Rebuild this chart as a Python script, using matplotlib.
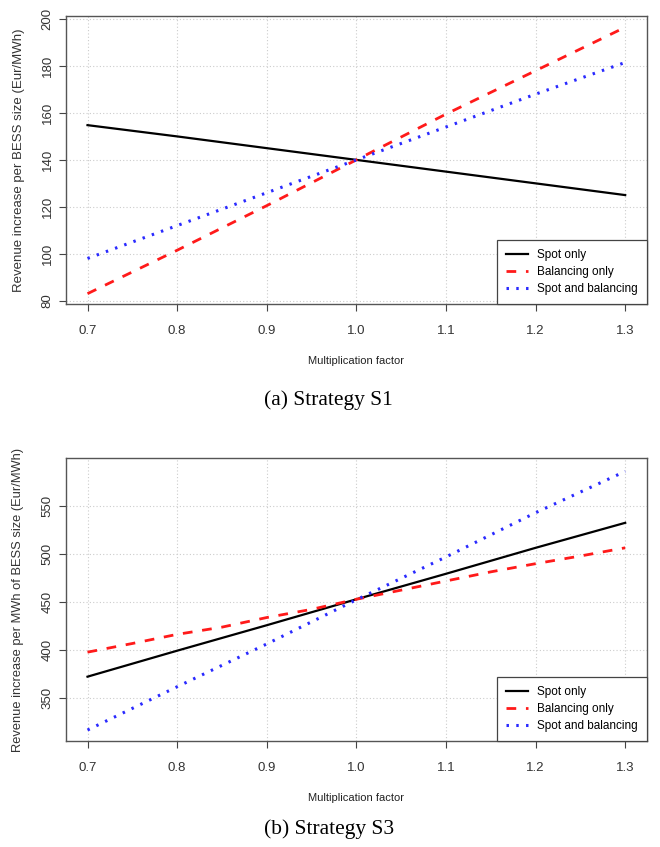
import matplotlib
matplotlib.use("Agg")
import matplotlib.pyplot as plt

# ---- data ----
factor = [0.7, 0.8, 0.9, 1.0, 1.1, 1.2, 1.3]
factor_fine = [0.70, 0.75, 0.80, 0.85, 0.90, 0.95, 1.00, 1.05, 1.10, 1.15, 1.20, 1.25, 1.30]

s1_spot = [154.8, 150.0, 145.0, 140.0, 135.0, 130.0, 125.0]
s1_balancing = [83.0, 101.5, 120.5, 140.0, 159.5, 178.0, 196.5]
s1_spot_bal = [98.0, 112.0, 126.0, 140.0, 154.0, 168.0, 181.5]

s3_spot = [372.5, 399.5, 426.0, 453.0, 479.5, 506.5, 532.5]
s3_balancing = [398.0, 407.0, 416.5, 424.0, 434.0, 442.5, 453.0, 462.5, 472.0, 481.5, 490.0, 498.0, 506.5]
s3_spot_bal = [317.0, 362.0, 406.5, 452.5, 497.0, 543.0, 586.0]

x_ticks = [0.7, 0.8, 0.9, 1.0, 1.1, 1.2, 1.3]
x_tick_labels = ["0.7", "0.8", "0.9", "1.0", "1.1", "1.2", "1.3"]
s1_y_ticks = [80, 100, 120, 140, 160, 180, 200]
s3_y_ticks = [350, 400, 450, 500, 550]

series_names = ["Spot only", "Balancing only", "Spot and balancing"]
x_label = "Multiplication factor"
s1_y_label = "Revenue increase per BESS size (Eur/MWh)"
s3_y_label = "Revenue increase per MWh of BESS size (Eur/MWh)"
captions = ["(a) Strategy S1", "(b) Strategy S3"]

SANS = ["Liberation Sans", "DejaVu Sans"]
SERIF = ["Liberation Serif", "DejaVu Serif"]

fig = plt.figure(figsize=(6.6, 8.47), dpi=100)
W, H = 660, 847


def px_axes(left, top, right, bottom):
    return fig.add_axes([left / W, 1 - bottom / H, (right - left) / W, (bottom - top) / H])


def style_panel(ax, yticks, ylabel, ylim, ylabel_px, ylabel_size):
    ax.set_xlim(0.676, 1.324)
    ax.set_ylim(*ylim)
    ax.set_xticks(x_ticks)
    ax.set_xticklabels(x_tick_labels, fontsize=9.5, family=SANS, color="#333333")
    ax.set_yticks(yticks)
    ax.set_yticklabels([str(v) for v in yticks], fontsize=9.5, family=SANS,
                       rotation=90, va="center", color="#333333")
    ax.tick_params(axis="both", direction="out", length=5, width=0.8, color="#444444")
    ax.tick_params(axis="x", pad=10)
    ax.tick_params(axis="y", pad=4)
    ax.grid(True, color="#cccccc", linestyle=(0, (1, 2)), linewidth=0.8)
    ax.set_axisbelow(True)
    for s in ax.spines.values():
        s.set_color("#555555")
        s.set_linewidth(1.0)
    ax.set_ylabel(ylabel, fontsize=ylabel_size, family=SANS, color="#333333")
    ax_w = ax.get_position().width * W
    ax.yaxis.set_label_coords((ylabel_px - 66) / ax_w, 0.5)
    ax.set_xlabel(x_label, fontsize=8, family=SANS, color="#222222", labelpad=14)


def draw_lines(ax, xs, ys_list):
    styles = [
        dict(color="black", linestyle="-", linewidth=1.6),
        dict(color="#ff1a1a", linestyle=(0, (3.5, 3.5)), linewidth=2.0),
        dict(color="#2a2aff", linestyle=(0, (0.8, 2.4)), linewidth=2.2),
    ]
    for (x, y), name, st in zip(zip(xs, ys_list), series_names, styles):
        ax.plot(x, y, label=name, **st)
    leg = ax.legend(loc="lower right", borderaxespad=0, fancybox=False,
                    framealpha=1, edgecolor="#444444", prop={"family": SANS, "size": 8.5},
                    handlelength=1.85, handletextpad=0.8, labelspacing=0.42,
                    borderpad=0.75)
    leg.get_frame().set_linewidth(0.9)


ax1 = px_axes(66, 16, 646.7, 304)
draw_lines(ax1, [factor, factor, factor], [s1_spot, s1_balancing, s1_spot_bal])
style_panel(ax1, s1_y_ticks, s1_y_label, (78.6, 201.3), 25, 9.5)

ax2 = px_axes(66, 458.3, 646.7, 741)
draw_lines(ax2, [factor, factor_fine, factor], [s3_spot, s3_balancing, s3_spot_bal])
style_panel(ax2, s3_y_ticks, s3_y_label, (305.6, 599.6), 24, 9.3)

fig.text(328 / W, 1 - 400 / H, captions[0], ha="center", va="center",
         fontsize=15.5, family=SERIF)
fig.text(329 / W, 1 - 829 / H, captions[1], ha="center", va="center",
         fontsize=15.5, family=SERIF)

fig.savefig("out.png", dpi=100, facecolor="white")
